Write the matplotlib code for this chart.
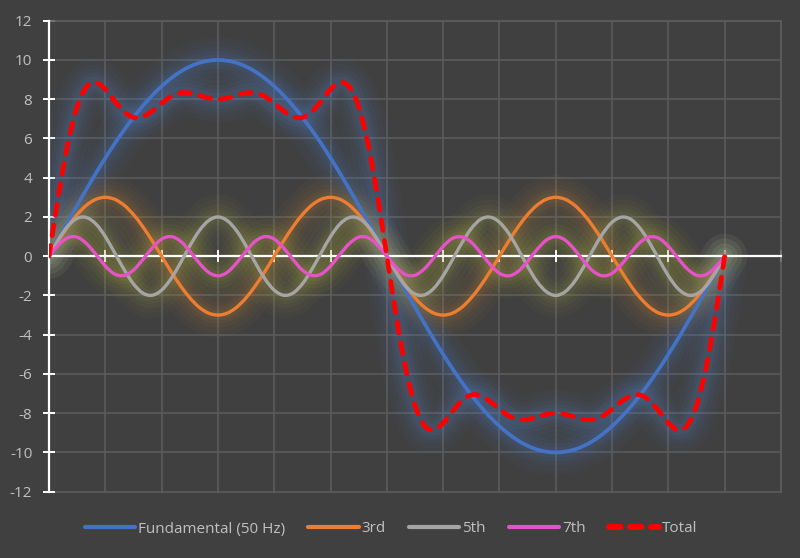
import numpy as np
import matplotlib
matplotlib.use("Agg")
import matplotlib.pyplot as plt
from matplotlib.path import Path
from matplotlib.patches import PathPatch
from matplotlib.lines import Line2D

plt.rcParams['font.family'] = ['Open Sans', 'DejaVu Sans']

# ---- data (sampled every 5 degrees, 0..360) ----
angle_deg = list(range(0, 361, 5))

fundamental = [0.00, 0.87, 1.74, 2.59, 3.42, 4.23, 5.00, 5.74, 6.43, 7.07, 7.66, 8.19, 8.66, 9.06, 9.40,
               9.66, 9.85, 9.96, 10.00, 9.96, 9.85, 9.66, 9.40, 9.06, 8.66, 8.19, 7.66, 7.07, 6.43, 5.74,
               5.00, 4.23, 3.42, 2.59, 1.74, 0.87, 0.00, -0.87, -1.74, -2.59, -3.42, -4.23, -5.00, -5.74,
               -6.43, -7.07, -7.66, -8.19, -8.66, -9.06, -9.40, -9.66, -9.85, -9.96, -10.00, -9.96, -9.85,
               -9.66, -9.40, -9.06, -8.66, -8.19, -7.66, -7.07, -6.43, -5.74, -5.00, -4.23, -3.42, -2.59,
               -1.74, -0.87, 0.00]

third = [0.00, 0.78, 1.50, 2.12, 2.60, 2.90, 3.00, 2.90, 2.60, 2.12, 1.50, 0.78, 0.00, -0.78, -1.50, -2.12,
         -2.60, -2.90, -3.00, -2.90, -2.60, -2.12, -1.50, -0.78,
         0.00, 0.78, 1.50, 2.12, 2.60, 2.90, 3.00, 2.90, 2.60, 2.12, 1.50, 0.78, 0.00, -0.78, -1.50, -2.12,
         -2.60, -2.90, -3.00, -2.90, -2.60, -2.12, -1.50, -0.78,
         0.00, 0.78, 1.50, 2.12, 2.60, 2.90, 3.00, 2.90, 2.60, 2.12, 1.50, 0.78, 0.00, -0.78, -1.50, -2.12,
         -2.60, -2.90, -3.00, -2.90, -2.60, -2.12, -1.50, -0.78, 0.00]

fifth = [0.00, 0.85, 1.53, 1.93, 1.97, 1.64, 1.00, 0.17, -0.68, -1.41, -1.88, -1.99, -1.73, -1.15, -0.35,
         0.52, 1.29, 1.81, 2.00, 1.81, 1.29, 0.52, -0.35, -1.15, -1.73, -1.99, -1.88, -1.41, -0.68, 0.17,
         1.00, 1.64, 1.97, 1.93, 1.53, 0.85, 0.00,
         -0.85, -1.53, -1.93, -1.97, -1.64, -1.00, -0.17, 0.68, 1.41, 1.88, 1.99, 1.73, 1.15, 0.35,
         -0.52, -1.29, -1.81, -2.00, -1.81, -1.29, -0.52, 0.35, 1.15, 1.73, 1.99, 1.88, 1.41, 0.68, -0.17,
         -1.00, -1.64, -1.97, -1.93, -1.53, -0.85, 0.00]

seventh = [0.00, 0.57, 0.94, 0.97, 0.64, 0.09, -0.50, -0.91, -0.98, -0.71, -0.17, 0.42, 0.87, 1.00, 0.77,
           0.26, -0.34, -0.82, -1.00, -0.82, -0.34, 0.26, 0.77, 1.00, 0.87, 0.42, -0.17, -0.71, -0.98, -0.91,
           -0.50, 0.09, 0.64, 0.97, 0.94, 0.57, 0.00,
           -0.57, -0.94, -0.97, -0.64, -0.09, 0.50, 0.91, 0.98, 0.71, 0.17, -0.42, -0.87, -1.00, -0.77,
           -0.26, 0.34, 0.82, 1.00, 0.82, 0.34, -0.26, -0.77, -1.00, -0.87, -0.42, 0.17, 0.71, 0.98, 0.91,
           0.50, -0.09, -0.64, -0.97, -0.94, -0.57, 0.00]

total = [0.00, 3.07, 5.71, 7.61, 8.63, 8.85, 8.50, 7.90, 7.36, 7.07, 7.11, 7.40, 7.79, 8.14, 8.32, 8.32,
         8.19, 8.06, 8.00, 8.06, 8.19, 8.32, 8.32, 8.14, 7.79, 7.40, 7.11, 7.07, 7.36, 7.90, 8.50, 8.85,
         8.63, 7.61, 5.71, 3.07, 0.00,
         -3.07, -5.71, -7.61, -8.63, -8.85, -8.50, -7.90, -7.36, -7.07, -7.11, -7.40, -7.79, -8.14, -8.32,
         -8.32, -8.19, -8.06, -8.00, -8.06, -8.19, -8.32, -8.32, -8.14, -7.79, -7.40, -7.11, -7.07, -7.36,
         -7.90, -8.50, -8.85, -8.63, -7.61, -5.71, -3.07, 0.00]

series_labels = ["Fundamental (50 Hz)", "3rd", "5th", "7th", "Total"]
y_ticks = list(range(-12, 13, 2))
x_grid = list(range(0, 391, 30))

BG = '#404040'
GRID = '#5b5b5b'
TXT = '#c0c0c0'


def smooth_path(x, y):
    pts = np.column_stack([np.asarray(x, float), np.asarray(y, float)])
    n = len(pts)
    verts = [pts[0]]
    codes = [Path.MOVETO]
    for i in range(n - 1):
        p0 = pts[i - 1] if i > 0 else pts[i]
        p1 = pts[i]
        p2 = pts[i + 1]
        p3 = pts[i + 2] if i + 2 < n else pts[i + 1]
        c1 = p1 + (p2 - p0) / 6.0
        c2 = p2 - (p3 - p1) / 6.0
        verts += [c1, c2, p2]
        codes += [Path.CURVE4] * 3
    return Path(verts, codes)


fig = plt.figure(figsize=(8, 5.58), dpi=100, facecolor=BG)
ax = fig.add_axes([49 / 800, 1 - 491.7 / 558, (781 - 49) / 800, (491.7 - 20.7) / 558])
ax.set_facecolor(BG)
ax.set_xlim(0, 390)
ax.set_ylim(-12, 12)

# grid
for yv in y_ticks:
    ax.axhline(yv, color=GRID, lw=1.2, zorder=0.5, clip_on=False)
for xv in x_grid[1:]:
    ax.axvline(xv, color=GRID, lw=1.2, zorder=0.5, clip_on=False)

styles = [
    dict(data=fundamental, color='#4472C4', lw=2.7, glow='#4f7fd0', ls='-'),
    dict(data=third, color='#ED7D31', lw=2.4, glow='#d08a30', ls='-'),
    dict(data=fifth, color='#A5A5A5', lw=2.4, glow='#a8a848', ls='-'),
    dict(data=seventh, color='#E652C8', lw=2.4, glow='#b8b83c', ls='-'),
    dict(data=total, color='#FF0000', lw=3.4, glow='#5a8ad8', ls='--'),
]

# glows first
for i, s in enumerate(styles):
    path = smooth_path(angle_deg, s['data'])
    for w, a in [(30, 0.035), (23, 0.045), (16, 0.055), (10, 0.065), (5, 0.075)]:
        ax.add_patch(PathPatch(path, fill=False, edgecolor=s['glow'], lw=s['lw'] + w, alpha=a,
                               capstyle='round', joinstyle='round', zorder=2 + i * 0.01))

for i, s in enumerate(styles):
    path = smooth_path(angle_deg, s['data'])
    if s['ls'] == '--':
        p = PathPatch(path, fill=False, edgecolor=s['color'], lw=s['lw'],
                      linestyle=(0, (2.3, 2.1)), capstyle='round', joinstyle='round', zorder=4 + i * 0.1)
    else:
        p = PathPatch(path, fill=False, edgecolor=s['color'], lw=s['lw'],
                      capstyle='round', joinstyle='round', zorder=4 + i * 0.1)
    ax.add_patch(p)

# axes
for side in ['top', 'right']:
    ax.spines[side].set_color(GRID)
    ax.spines[side].set_linewidth(1.2)
ax.spines['left'].set_color('white')
ax.spines['left'].set_linewidth(1.6)
ax.spines['left'].set_zorder(3)
ax.spines['bottom'].set_position(('data', 0))
ax.spines['bottom'].set_color('white')
ax.spines['bottom'].set_linewidth(1.6)
ax.spines['bottom'].set_zorder(3)

ax.set_yticks(y_ticks)
ax.set_yticklabels([str(v) for v in y_ticks])
ax.set_xticks(x_grid[1:])
ax.tick_params(axis='x', direction='inout', length=8, width=1.4, color='white', labelbottom=False)
ax.tick_params(axis='y', direction='inout', length=8, width=1.4, color='white', labelcolor=TXT,
               labelsize=11, pad=8)

handles = []
for s in styles:
    if s['ls'] == '--':
        h = Line2D([], [], color=s['color'], lw=4.2, linestyle=(0, (2.0, 1.6)), solid_capstyle='round',
                   dash_capstyle='round')
    else:
        h = Line2D([], [], color=s['color'], lw=3.0, solid_capstyle='round')
    handles.append(h)

fig.legend(handles, series_labels, loc='center', bbox_to_anchor=(0.489, 1 - 529 / 558), ncol=5,
           frameon=False, handlelength=3.3, columnspacing=1.5, handletextpad=0.2,
           prop={'size': 11}, labelcolor=TXT)

fig.savefig('out.png', dpi=100, facecolor=BG)
